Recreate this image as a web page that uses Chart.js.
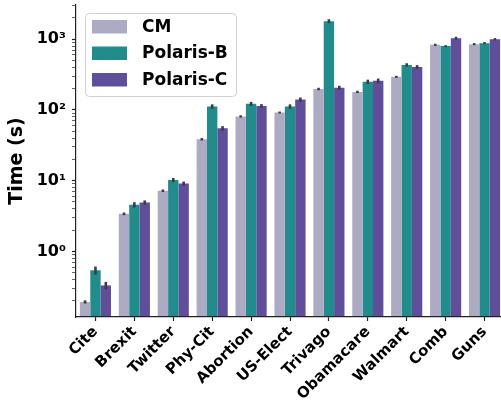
<!DOCTYPE html>
<html>
<head>
<meta charset="utf-8">
<script src="https://cdn.jsdelivr.net/npm/chart.js@4"></script>
<style>
  html, body { margin: 0; padding: 0; background: #fff; overflow: hidden; }
  #wrap { width: 504px; height: 410px; position: relative; }
</style>
</head>
<body>
<div id="wrap"><canvas id="chart"></canvas></div>
<script>
const categories = ['Cite', 'Brexit', 'Twitter', 'Phy-Cit', 'Abortion', 'US-Elect', 'Trivago', 'Obamacare', 'Walmart', 'Comb', 'Guns'];

const cmValues       = [0.193, 3.4, 7.2, 38.5, 81, 92, 198, 180, 294, 833, 853];
const polarisBValues = [0.54, 4.56, 10.2, 112, 122, 112, 1800, 250, 433, 800, 881];
const polarisCValues = [0.33, 4.9, 9.1, 55, 114, 140, 206, 258, 406, 1036, 1003];

// +/- error (same units as values)
const cmErr       = [0.01, 0.15, 0.3, 1.5, 3, 3, 8, 7, 10, 30, 30];
const polarisBErr = [0.07, 0.4, 0.7, 8, 8, 8, 120, 18, 25, 25, 30];
const polarisCErr = [0.04, 0.35, 0.6, 4, 7, 10, 14, 20, 25, 50, 35];

const yTickValues = [1, 10, 100, 1000];
const supers = { '0': '\u2070', '1': '\u00b9', '2': '\u00b2', '3': '\u00b3' };

const FONT = 'DejaVu Sans';

function isPow10(v) {
    return yTickValues.indexOf(v) !== -1;
}

const errorBars = {
    id: 'errorBars',
    afterDatasetsDraw(chart) {
        const ctx = chart.ctx;
        const y = chart.scales.y;
        ctx.save();
        ctx.strokeStyle = '#3d3d3d';
        ctx.lineWidth = 2.6;
        chart.data.datasets.forEach((ds, i) => {
            const meta = chart.getDatasetMeta(i);
            meta.data.forEach((bar, j) => {
                const v = ds.data[j];
                const e = ds.err[j];
                ctx.beginPath();
                ctx.moveTo(bar.x, y.getPixelForValue(v - e));
                ctx.lineTo(bar.x, y.getPixelForValue(v + e));
                ctx.stroke();
            });
        });
        ctx.restore();
    }
};

const boxLegend = {
    id: 'boxLegend',
    afterDraw(chart) {
        const ctx = chart.ctx;
        const x0 = 85, y0 = 13, w = 151, h = 83, r = 4;
        ctx.save();
        ctx.beginPath();
        ctx.roundRect(x0 + 0.5, y0 + 0.5, w, h, r);
        ctx.fillStyle = 'rgba(255,255,255,0.8)';
        ctx.fill();
        ctx.strokeStyle = '#d0d0d0';
        ctx.lineWidth = 1;
        ctx.stroke();
        ctx.font = 'bold 17px "' + FONT + '"';
        ctx.textBaseline = 'middle';
        chart.data.datasets.forEach((ds, i) => {
            const top = 20 + i * 26.5;
            ctx.fillStyle = ds.backgroundColor;
            ctx.fillRect(92, top, 35, 13.5);
            ctx.fillStyle = '#000';
            ctx.fillText(ds.label, 142, top + 7.5);
        });
        ctx.restore();
    }
};

new Chart(document.getElementById('chart'), {
    type: 'bar',
    data: {
        labels: categories,
        datasets: [
            { label: 'CM', data: cmValues, err: cmErr, backgroundColor: '#adaac4' },
            { label: 'Polaris-B', data: polarisBValues, err: polarisBErr, backgroundColor: '#228c8d' },
            { label: 'Polaris-C', data: polarisCValues, err: polarisCErr, backgroundColor: '#604e9b' }
        ]
    },
    options: {
        responsive: true,
        maintainAspectRatio: false,
        animation: false,
        datasets: {
            bar: { categoryPercentage: 0.8, barPercentage: 1.0, borderWidth: 0 }
        },
        layout: { padding: { top: 5, right: 0, left: 0, bottom: 0 } },
        plugins: {
            legend: { display: false },
            tooltip: { enabled: false }
        },
        scales: {
            x: {
                grid: { display: true, offset: false, drawOnChartArea: false, drawTicks: true, tickLength: 4, tickColor: '#222', tickWidth: 1.2 },
                border: { display: true, color: '#222', width: 1.2, z: 1 },
                ticks: {
                    color: '#000',
                    font: { family: FONT, size: 15, weight: 'bold' },
                    minRotation: 45,
                    maxRotation: 45,
                    autoSkip: false,
                    padding: 2
                },
                afterFit(scale) {
                    scale.height = 93;
                    scale.paddingLeft = 0;
                    scale.paddingRight = 0;
                }
            },
            y: {
                type: 'logarithmic',
                min: 0.118,
                max: 3050,
                afterBuildTicks(scale) {
                    const t = [];
                    for (let d = 0.1; d <= 1000; d *= 10) {
                        for (let m = 1; m < 10; m++) {
                            const v = Math.round(m * d * 1000) / 1000;
                            if (v >= 0.118 && v <= 3050) t.push({ value: v });
                        }
                    }
                    scale.ticks = t;
                },
                grid: {
                    display: true,
                    drawOnChartArea: false,
                    drawTicks: true,
                    tickLength: 4,
                    tickColor: '#222',
                    tickWidth: (c) => (c.tick && isPow10(c.tick.value)) ? 1.2 : 0.7
                },
                border: { display: true, color: '#222', width: 1.2, z: 1 },
                ticks: {
                    color: '#000',
                    autoSkip: false,
                    padding: 6,
                    font: { family: FONT, size: 16, weight: 'bold' },
                    callback: (v) => {
                        if (!isPow10(v)) return '';
                        const p = String(Math.round(Math.log10(v)));
                        return '10' + supers[p];
                    }
                },
                title: {
                    display: true,
                    text: 'Time (s)',
                    color: '#000',
                    font: { family: FONT, size: 19, weight: 'bold' },
                    padding: { top: 6, bottom: 0 }
                },
                afterFit(scale) {
                    scale.width = 76;
                    scale.paddingTop = 0;
                    scale.paddingBottom = 0;
                }
            }
        }
    },
    plugins: [errorBars, boxLegend]
});
</script>
</body>
</html>
